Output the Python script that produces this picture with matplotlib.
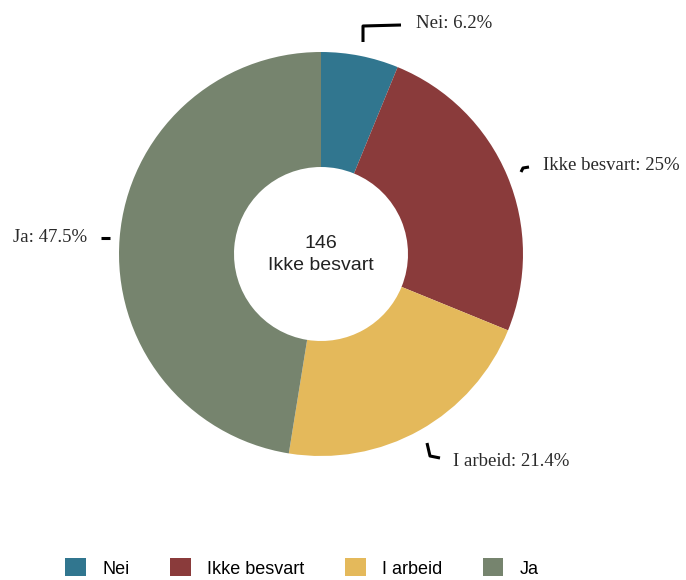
import matplotlib.pyplot as plt
from matplotlib.patches import Patch

labels = ['Nei', 'Ikke besvart', 'I arbeid', 'Ja']
values = [6.2, 25, 21.4, 47.5]
label_text = ['Nei: 6.2%', 'Ikke besvart: 25%', 'I arbeid: 21.4%', 'Ja: 47.5%']
colors = ['#31768f', '#8a3b3b', '#e4b95b', '#76846e']
center_lines = ['146', 'Ikke besvart']

W, H = 686, 580
fig = plt.figure(figsize=(W / 100, H / 100), dpi=100)
ax = fig.add_axes([0, 0, 1, 1])

cx, cy = 321, H - 254
r_out, r_in = 202, 87
ax.pie(values, colors=colors, startangle=90, counterclock=False,
       center=(cx, cy), radius=r_out, frame=True,
       wedgeprops=dict(width=r_out - r_in, linewidth=0))
ax.set_xlim(0, W)
ax.set_ylim(0, H)
ax.set_aspect('equal')
ax.axis('off')

# leader lines and label anchors per slice (pixel coords from top)
leaders = [
    ([363, 363, 401], [42, 26, 25]),
    ([521, 523, 529], [172, 168, 167]),
    ([427, 430, 440], [443, 456, 458]),
    ([101, 110], [238, 238]),
]
text_pos = [(416, 24, 'left'), (543, 165, 'left'), (453, 461, 'left'), (87, 238, 'right')]
for (xs, ys), (tx, ty, ha), t in zip(leaders, text_pos, label_text):
    ax.plot(xs, [H - y for y in ys], color='black', lw=2.2, solid_capstyle='butt')
    ax.text(tx, H - ty, t, ha=ha, va='center', fontsize=13.5,
            family='Liberation Serif', color='#2a2a2a')

ax.text(cx, H - 243, center_lines[0], ha='center', va='center', fontsize=14,
        family='Liberation Sans', color='#222222')
ax.text(cx, H - 266, center_lines[1], ha='center', va='center', fontsize=14,
        family='Liberation Sans', color='#222222')

handles = [Patch(facecolor=c, edgecolor='none') for c in colors]
fig.legend(handles, labels, loc='center', bbox_to_anchor=(0.44, 1 - 568 / H),
           ncol=4, frameon=False, handlelength=1.15, handleheight=1.15,
           handletextpad=0.9, columnspacing=2.25,
           prop={'family': 'Liberation Sans', 'size': 13})

fig.savefig('out.png', dpi=100)
